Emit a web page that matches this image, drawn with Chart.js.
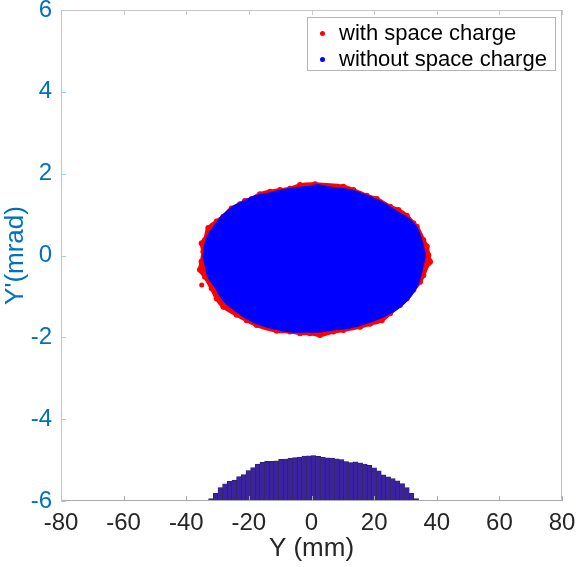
<!DOCTYPE html>
<html>
<head>
<meta charset="utf-8">
<script src="https://cdn.jsdelivr.net/npm/chart.js@4/dist/chart.umd.min.js"></script>
<style>
html,body{margin:0;padding:0;background:#fff;}
#wrap{position:relative;width:577px;height:567px;}
canvas{display:block;}
#legend{position:absolute;left:307px;top:17px;width:249px;height:54px;border:1px solid #b4b4b4;background:#fff;
  font-family:"Liberation Sans",Arial,Helvetica,sans-serif;font-size:22px;color:#000;box-sizing:border-box;}
#legend .item{position:absolute;left:0;height:26px;line-height:26px;white-space:nowrap;}
#legend .dot{position:absolute;left:12px;top:11px;width:5px;height:5px;border-radius:50%;}
#legend .txt{position:absolute;left:31px;top:0;}
</style>
</head>
<body>
<div id="wrap">
  <canvas id="c" width="577" height="567"></canvas>
  <div id="legend"></div>
</div>
<script>
// ---- axis ranges / ticks ----
const xRange = [-80, 80];
const xStep = 20;
const yRange = [-6, 6];
const yStep = 2;
const xTitle = 'Y (mm)';
const yTitle = "Y'(mrad)";

// ---- series labels ----
const withLabel = 'with space charge';
const withoutLabel = 'without space charge';

// ---- "with space charge" outer edge points ----
const withX = [-35.06, -34.55, -35.06, -34.01, -32.95, -30.27, -28.16, -25.48, -22.83, -21.23, -19.09, -16.44,
  -13.25, -10.05, -6.86, -3.67, 1.12, 10.16, 13.36, 17.64, 20.83, 25.08, 27.73, 30.41, 32.52, 33.61, 35.71,
  36.80, 37.31, 37.85, 37.31, 35.71, 34.66, 32.52, 30.41, 28.27, 25.08, 22.43, 18.69, 15.50, 10.16, 6.97,
  2.72, -0.47, -3.67, -6.86, -11.11, -17.50, -20.69, -23.88, -28.16, -30.27, -31.87, -34.01, -35.60, -35.06];
const withY = [-0.15, 0.09, 0.30, 0.38, 0.67, 0.83, 0.95, 1.15, 1.25, 1.33, 1.38, 1.50,
  1.56, 1.60, 1.63, 1.72, 1.74, 1.68, 1.60, 1.46, 1.38, 1.19, 1.11, 0.97, 0.79, 0.70, 0.38,
  0.22, 0.01, -0.15, -0.19, -0.48, -0.64, -0.84, -1.05, -1.21, -1.41, -1.58, -1.67, -1.74, -1.82, -1.86,
  -1.94, -1.90, -1.90, -1.86, -1.84, -1.70, -1.58, -1.45, -1.25, -1.05, -0.80, -0.52, -0.35, -0.15];
// isolated outlying points of the same series
const withOutX = [-35.06, -35.60];
const withOutY = [-0.72, -0.35];

// ---- "without space charge" upper and lower edges ----
const withoutTopX = [-34.55, -34.0, -32.95, -30.8, -28.16, -24.97, -21.78, -17.5, -13.25, -9.0, -3.67, -0.47,
  1.67, 5.92, 12.3, 17.64, 22.94, 27.22, 31.47, 33.6, 35.2, 36.26];
const withoutTopY = [-0.07, 0.26, 0.50, 0.74, 0.99, 1.19, 1.32, 1.46, 1.52, 1.60, 1.66, 1.68,
  1.72, 1.66, 1.60, 1.46, 1.28, 1.07, 0.87, 0.67, 0.34, 0.01];
const withoutBottomX = [-34.55, -34.0, -32.95, -30.8, -28.16, -23.88, -18.58, -12.2, -6.86, -1.53, 2.72,
  5.92, 12.3, 18.69, 24.02, 28.27, 31.47, 33.6, 34.66, 35.71, 36.26];
const withoutBottomY = [-0.07, -0.19, -0.52, -0.76, -1.09, -1.37, -1.62, -1.78, -1.86, -1.86, -1.86,
  -1.82, -1.76, -1.62, -1.45, -1.25, -1.01, -0.76, -0.52, -0.19, 0.01];

// ---- histogram (bin centres and bar tops, drawn from the -6 baseline) ----
const histBase = -6;
const histCenters = [-33.60, -32.11, -30.62, -29.13, -27.64, -26.15, -24.66, -23.17, -21.68, -20.19,
  -18.70, -17.21, -15.72, -14.23, -12.74, -11.25, -9.76, -8.27, -6.78, -5.29, -3.80, -2.31, -0.82,
  0.67, 2.16, 3.65, 5.14, 6.63, 8.12, 9.61, 11.10, 12.59, 14.08, 15.57, 17.06, 18.55, 20.04, 21.53,
  23.02, 24.51, 26.00, 27.49, 28.98, 30.47, 31.96, 33.45, 34.94];
const histTops = [-5.984, -5.943, -5.813, -5.67, -5.58, -5.52, -5.49, -5.405, -5.355, -5.255,
  -5.185, -5.10, -5.055, -5.033, -5.033, -5.02, -4.984, -4.976, -4.955, -4.94, -4.927, -4.902, -4.894,
  -4.89, -4.91, -4.932, -4.943, -4.951, -4.967, -4.988, -5.035, -5.06, -5.045, -5.065, -5.098, -5.13,
  -5.187, -5.26, -5.358, -5.407, -5.455, -5.504, -5.577, -5.675, -5.813, -5.943, -5.984];

const pts = (xs, ys) => xs.map((v, i) => ({x: v, y: ys[i]}));

Chart.defaults.font.family = '"Liberation Sans", Arial, Helvetica, sans-serif';

const frame = {
  id: 'frame',
  afterDatasetsDraw(chart) {
    const {ctx, chartArea: {left, right, top, bottom}, scales: {x, y}} = chart;
    const L = 5;
    const seg = (x1, y1, x2, y2) => { ctx.beginPath(); ctx.moveTo(x1, y1); ctx.lineTo(x2, y2); ctx.stroke(); };
    ctx.save();
    ctx.lineWidth = 1;
    ctx.strokeStyle = '#c9c9c9';
    seg(left, top + 0.5, right, top + 0.5);
    x.ticks.forEach(t => { const p = Math.round(x.getPixelForValue(t.value)) + 0.5; seg(p, top, p, top + L); });
    ctx.strokeStyle = '#a9a9b4';
    seg(left, bottom - 0.5, right, bottom - 0.5);
    x.ticks.forEach(t => { const p = Math.round(x.getPixelForValue(t.value)) + 0.5; seg(p, bottom, p, bottom - L); });
    ctx.strokeStyle = '#a8cbe7';
    seg(left + 0.5, top, left + 0.5, bottom);
    y.ticks.forEach(t => { const p = Math.round(y.getPixelForValue(t.value)) + 0.5; seg(left, p, left + L, p); });
    ctx.strokeStyle = '#eeae90';
    seg(right - 0.5, top, right - 0.5, bottom);
    ctx.restore();
  }
};

const noPad = s => { s.paddingTop = 0; s.paddingBottom = 0; s.paddingLeft = 0; s.paddingRight = 0; };

const chart = new Chart(document.getElementById('c'), {
  type: 'scatter',
  data: {
    datasets: [
      {
        type: 'line', label: withoutLabel, data: pts(withoutTopX, withoutTopY),
        borderColor: '#0000ff', backgroundColor: '#0000ff', borderWidth: 2, tension: 0.35,
        pointRadius: 0, fill: '+1', order: 0
      },
      {
        type: 'line', label: '', data: pts(withoutBottomX, withoutBottomY),
        borderColor: '#0000ff', backgroundColor: '#0000ff', borderWidth: 2, tension: 0.35,
        pointRadius: 0, fill: false, order: 0
      },
      {
        type: 'line', label: withLabel, data: pts(withX, withY),
        borderColor: '#ff0000', backgroundColor: '#ff0000', borderWidth: 4, tension: 0.3,
        pointRadius: 3, pointBorderWidth: 0, pointBackgroundColor: '#ff0000', fill: 'shape', order: 1
      },
      {
        type: 'scatter', label: '', data: pts(withOutX, withOutY),
        backgroundColor: '#ff0000', pointRadius: 2.5, pointBorderWidth: 0, order: 1
      },
      {
        type: 'bar', label: '', data: pts(histCenters, histTops), base: histBase,
        backgroundColor: '#3a22a0', borderColor: '#2a1f55', borderWidth: 0.6,
        barPercentage: 1, categoryPercentage: 1, order: 2
      }
    ]
  },
  options: {
    responsive: false,
    animation: false,
    events: [],
    layout: {padding: {top: 10, right: 15, left: 0, bottom: 0}},
    plugins: {legend: {display: false}, tooltip: {enabled: false}},
    scales: {
      x: {
        type: 'linear', min: xRange[0], max: xRange[1], offset: false,
        grid: {display: false, drawTicks: false, tickLength: 0, offset: false},
        border: {display: false},
        ticks: {stepSize: xStep, autoSkip: false, maxRotation: 0, color: '#262626', font: {size: 24}, padding: 8},
        title: {display: true, text: xTitle, color: '#262626', font: {size: 26}, padding: {top: 0, bottom: 3}},
        afterFit: s => { s.height = 66; noPad(s); }
      },
      y: {
        type: 'linear', min: yRange[0], max: yRange[1], beginAtZero: false,
        grid: {display: false, drawTicks: false, tickLength: 0},
        border: {display: false},
        ticks: {stepSize: yStep, autoSkip: false, color: '#0072bd', font: {size: 24}, padding: 9},
        title: {display: true, text: yTitle, color: '#0072bd', font: {size: 26}, padding: {top: 0, bottom: 0}},
        afterFit: s => { s.width = 61; noPad(s); }
      }
    }
  },
  plugins: [frame]
});

// HTML legend built from the dataset labels/colours
const lg = document.getElementById('legend');
[chart.data.datasets[2], chart.data.datasets[0]].forEach((ds, i) => {
  const it = document.createElement('div');
  it.className = 'item';
  it.style.top = (2 + i * 26) + 'px';
  const d = document.createElement('span');
  d.className = 'dot';
  d.style.background = ds.borderColor;
  const t = document.createElement('span');
  t.className = 'txt';
  t.textContent = ds.label;
  it.appendChild(d); it.appendChild(t);
  lg.appendChild(it);
});
</script>
</body>
</html>
